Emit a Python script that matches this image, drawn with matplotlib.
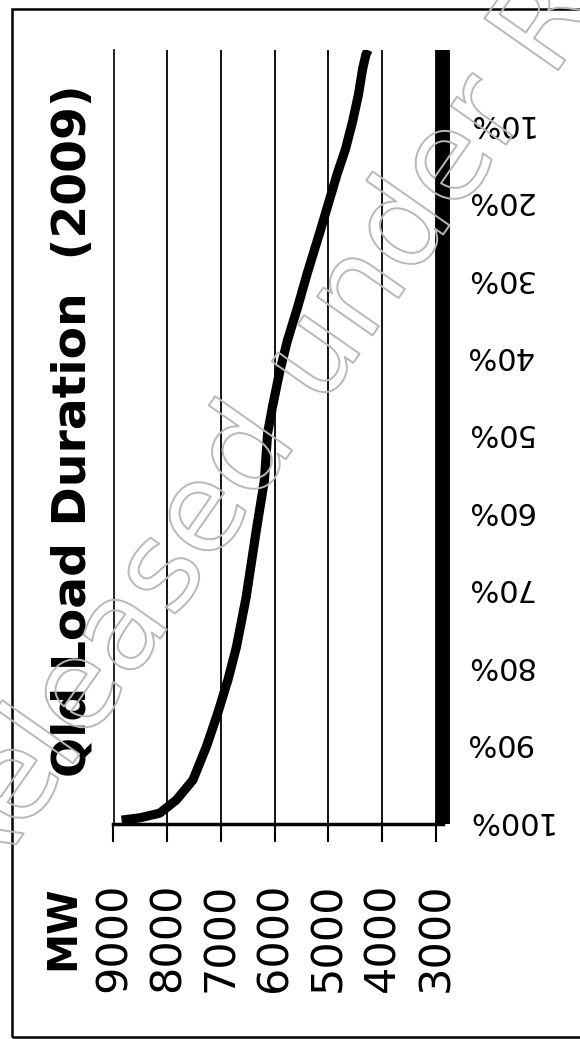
import matplotlib
matplotlib.use("Agg")
import matplotlib.pyplot as plt
import matplotlib.patheffects as pe
from matplotlib.patches import Rectangle
from matplotlib.transforms import ScaledTranslation

# Qld 2009 load duration: share of hours (%) against demand (MW)
load_mw = [4260, 4300, 4360, 4440, 4550, 4680, 4830, 4980, 5160, 5390, 5570,
           5760, 5910, 6040, 6130, 6190, 6340, 6530, 6710, 6870, 7060, 7270,
           7520, 7830, 8140, 8510, 8850]
time_pct = [0, 0.6, 2.4, 5.8, 9.3, 12.8, 15.9, 19.4, 23.6, 28.8, 33.2,
            37.5, 41.7, 46.1, 49.5, 55.6, 62.0, 70.7, 77.1, 81.4, 85.7, 90.0,
            94.3, 96.9, 98.6, 99.2, 99.5]

mw_ticks = [9000, 8000, 7000, 6000, 5000, 4000, 3000]
pct_ticks = [10, 20, 30, 40, 50, 60, 70, 80, 90, 100]
pct_labels = ["10%", "20%", "30%", "40%", "50%", "60%", "70%", "80%", "90%", "100%"]

W, H = 580, 1039
fig = plt.figure(figsize=(W / 100, H / 100), dpi=100)

# plot area in pixels: left 113.5, right 442.7, top 50, bottom 824
ax = fig.add_axes([113.5 / W, 1 - 824 / H, (442.7 - 113.5) / W, (824 - 50) / H])

ax.plot(load_mw, time_pct, color="black", lw=6.6, solid_capstyle="butt",
        solid_joinstyle="round", zorder=3)

ax.set_xlim(9000, 2870)
ax.set_ylim(100, 0)

ax.set_xticks(mw_ticks)
ax.set_xticklabels([str(v) for v in mw_ticks], rotation=90, fontsize=31)
ax.tick_params(axis="x", direction="out", length=13, width=1.5, pad=29)

ax.yaxis.tick_right()
ax.set_yticks(pct_ticks)
ax.set_yticklabels(pct_labels, rotation=180, fontsize=22, va="center")
ax.tick_params(axis="y", length=0, pad=16)
# nudge the upside-down percent labels up a few pixels
for lbl in ax.get_yticklabels():
    lbl.set_transform(lbl.get_transform() + ScaledTranslation(0, 4 / 100, fig.dpi_scale_trans))

ax.grid(axis="x", color="black", lw=1.3)
ax.set_axisbelow(True)

ax.spines["top"].set_visible(False)
ax.spines["right"].set_linewidth(10)
ax.spines["right"].set_capstyle("butt")
ax.spines["bottom"].set_linewidth(2.5)
ax.spines["left"].set_linewidth(1.2)

fig.text(73 / W, 1 - 431 / H, "Qld Load Duration  (2009)", rotation=90,
         ha="center", va="center", fontsize=34, fontweight="bold")
fig.text(63 / W, 1 - 928 / H, "MW", rotation=90, ha="center", va="center",
         fontsize=29, fontweight="bold")

# page border
fig.patches.append(Rectangle((12 / W, 1 - 1037 / H), 1.0, (1037 - 9) / H,
                             transform=fig.transFigure, fill=False,
                             edgecolor="black", lw=1.8))

# outlined release stamp across the page
fig.text(290 / W, 1 - 393 / H, "Released under RTI", rotation=55,
         rotation_mode="anchor", ha="center", va="center", fontsize=89,
         color="none", zorder=10,
         path_effects=[pe.Stroke(linewidth=1.4, foreground="#b8b8b8")])

fig.savefig("out.png", dpi=100)
